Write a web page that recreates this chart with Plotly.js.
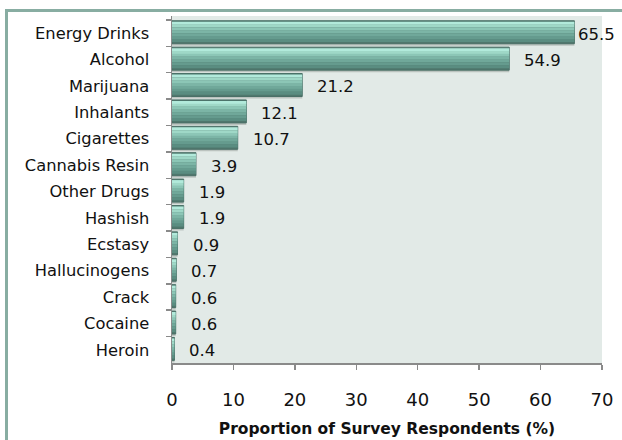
<!DOCTYPE html>
<html>
<head>
<meta charset="utf-8">
<script src="https://cdn.plot.ly/plotly-3.0.1.min.js"></script>
<style>
  html, body { margin: 0; padding: 0; background: #ffffff; }
  #wrap { position: relative; width: 622px; height: 440px; overflow: hidden; }
  #chart { position: absolute; left: 0; top: 0; width: 622px; height: 440px; }
  #frame {
    position: absolute; left: 5px; top: 9px; width: 700px; height: 520px;
    border: 3px solid #88ada2; pointer-events: none; box-sizing: border-box;
  }
</style>
</head>
<body>
<div id="wrap">
  <div id="chart"></div>
  <div id="frame"></div>
</div>
<script>
// Substances, top to bottom
const substances = [
  "Energy Drinks", "Alcohol", "Marijuana", "Inhalants", "Cigarettes",
  "Cannabis Resin", "Other Drugs", "Hashish", "Ecstasy", "Hallucinogens",
  "Crack", "Cocaine", "Heroin"
];
// Share of respondents reporting use (%)
const proportions = [65.5, 54.9, 21.2, 12.1, 10.7, 3.9, 1.9, 1.9, 0.9, 0.7, 0.6, 0.6, 0.4];
const xTicks = [0, 10, 20, 30, 40, 50, 60, 70];
const xTitle = "Proportion of Survey Respondents (%)";

const FONT = "DejaVu Sans, Verdana, sans-serif";
const PITCH = 26.4;            // px per category slot
const u = px => px / PITCH;    // px -> category units
const BAR_TOP = -0.47;
const BAR_H = u(23);

// One horizontal band of the bevelled bar: same values, different slice
function layer(top, height, color, line) {
  return {
    type: "bar", orientation: "h",
    y: substances, x: proportions,
    offset: top, width: height,
    marker: { color: color, line: line || { width: 0 } },
    hoverinfo: "skip", showlegend: false
  };
}

// Vertical shading of the bar, light rim at the top to dark underside
const bands = ["#b2eadb", "#9fd8c7", "#8cc6b6", "#7cb5a6", "#70a89a", "#659b8e", "#5a8d81"];
const bandH = 20 / bands.length;

const traces = [
  layer(BAR_TOP + u(2), BAR_H, "rgba(95,105,100,0.30)"),                 // drop shadow
  layer(BAR_TOP, BAR_H, "#4f776d", { color: "#4a7067", width: 1 })       // body / outline
];
bands.forEach((c, k) => {
  traces.push(layer(BAR_TOP + u(1 + k * bandH), u(bandH + 0.15), c));
});

const maxVal = Math.max(...proportions);
const annotations = proportions.map((v, i) => ({
  x: v, y: substances[i], xref: "x", yref: "y",
  text: v.toFixed(1), showarrow: false,
  xanchor: "left", yanchor: "middle",
  xshift: v === maxVal ? 2 : 13, yshift: -1,
  font: { family: FONT, size: 16.5, color: "#111111" }
}));

const layout = {
  width: 622, height: 440,
  margin: { l: 172, r: 20, t: 16, b: 77, pad: 0 },
  paper_bgcolor: "rgba(0,0,0,0)",
  plot_bgcolor: "#e2eae7",
  barmode: "overlay",
  showlegend: false,
  xaxis: {
    range: [0, 70], tickvals: xTicks, ticktext: xTicks.map(String),
    ticks: "outside", ticklen: 5, tickwidth: 1.5, tickcolor: "#8a8a8a",
    showline: true, linecolor: "#8a8a8a", linewidth: 1.5,
    showgrid: false, zeroline: false,
    tickfont: { family: FONT, size: 18, color: "#111111" },
    ticklabelstandoff: 15,
    title: {
      text: xTitle, standoff: 14,
      font: { family: FONT, size: 15.5, color: "#111111", weight: "bold" }
    }
  },
  yaxis: {
    type: "category", categoryorder: "array", categoryarray: substances,
    range: [12.5, -0.65], autorange: false,
    ticks: "outside", tickson: "boundaries", ticklen: 5, tickwidth: 1.5, tickcolor: "#8a8a8a",
    showline: true, linecolor: "#8a8a8a", linewidth: 1.5,
    showgrid: false, zeroline: false,
    tickfont: { family: FONT, size: 16.3, color: "#111111" },
    ticklabelstandoff: 18
  },
  annotations: annotations
};

Plotly.newPlot("chart", traces, layout, { staticPlot: true, displayModeBar: false });
</script>
</body>
</html>
